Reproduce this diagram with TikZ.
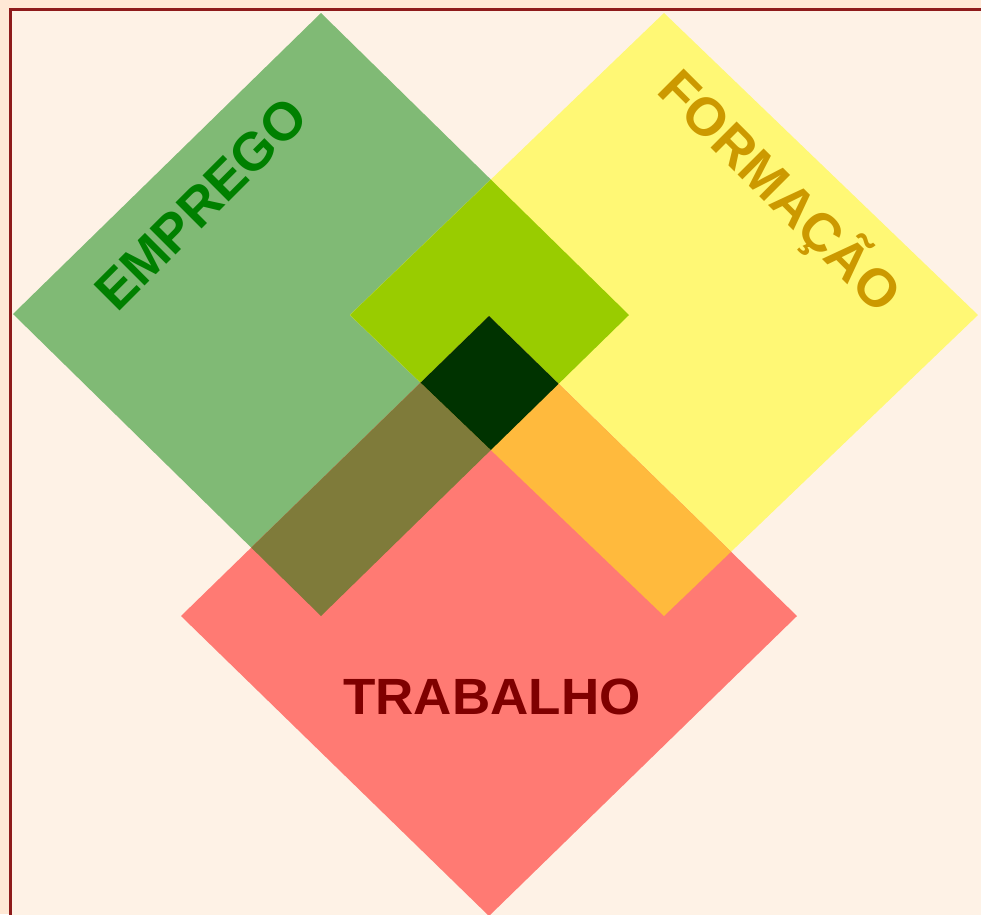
\documentclass[tikz,border=0pt]{standalone}
\usepackage{fontspec}
\setmainfont{Liberation Sans}
\usepackage{xcolor}
\definecolor{pagepeach}{HTML}{FFE8D5}
\definecolor{pagecream}{HTML}{FEF2E6}
\definecolor{framered}{HTML}{8E1B1B}
\definecolor{empgreen}{HTML}{80BA75}
\definecolor{formyellow}{HTML}{FFF875}
\definecolor{trabred}{HTML}{FF7A73}
\definecolor{gyfill}{HTML}{99CC00}
\definecolor{grfill}{HTML}{7F7B3A}
\definecolor{yrfill}{HTML}{FFBA3D}
\definecolor{gyrfill}{HTML}{003300}
\definecolor{empgreentext}{HTML}{008000}
\definecolor{formgoldtext}{HTML}{CC9900}
\definecolor{trabredtext}{HTML}{7F0000}

% diamond outlines, pixel coordinates
\newcommand{\greendiamond}{(13,314) -- (321,13) -- (629,315) -- (321,616) -- cycle}
\newcommand{\yellowdiamond}{(350,315) -- (664,13) -- (978,315) -- (664,616) -- cycle}
\newcommand{\reddiamond}{(181,616) -- (489,316) -- (797,616) -- (489,916) -- cycle}

\begin{document}
\begin{tikzpicture}[
  x=0.02cm, y=-0.02cm,
  lbl/.style={font=\fontsize{29}{30}\selectfont\bfseries, anchor=base, inner sep=0pt, text=#1},
  biglbl/.style={lbl=#1, font=\fontsize{30.5}{31}\selectfont\bfseries}
]
\useasboundingbox (0,0) rectangle (981,914);
\clip (0,0) rectangle (981,914);

% page and frame
\fill[pagepeach] (0,0) rectangle (981,914);
\filldraw[fill=pagecream, draw=framered, line width=1.2pt] (10.5,9.5) rectangle (982.5,930);

% the three diamonds
\fill[empgreen] \greendiamond;
\fill[formyellow] \yellowdiamond;
\fill[trabred] \reddiamond;

% overlaps
\begin{scope}
  \clip \greendiamond;
  \fill[gyfill] \yellowdiamond;
  \fill[grfill] \reddiamond;
\end{scope}
\begin{scope}
  \clip \yellowdiamond;
  \fill[yrfill] \reddiamond;
\end{scope}
\begin{scope}
  \clip \greendiamond;
  \clip \yellowdiamond;
  \fill[gyrfill] \reddiamond;
\end{scope}

% labels
\node[biglbl=empgreentext, rotate=45] (emprego) at (214,217) {EMPREGO};
\node[biglbl=formgoldtext, rotate=-45] (formacao) at (767,204) {FORMAÇÃO};
\node[lbl=trabredtext, xscale=1.04] (trabalho) at (492,714) {TRABALHO};

\end{tikzpicture}
\end{document}
